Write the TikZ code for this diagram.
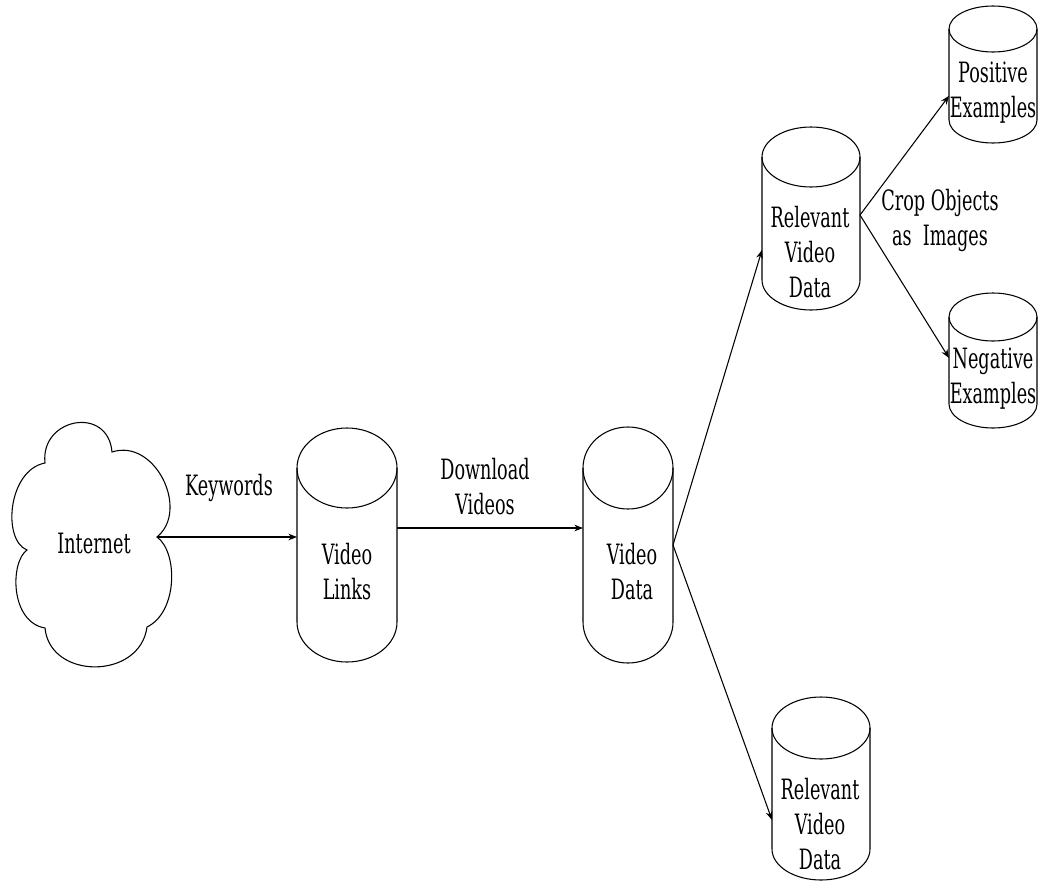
\documentclass[tikz,border=0pt]{standalone}
\usepackage{fontspec}
\setmainfont[FakeStretch=0.63]{DejaVu Serif}
\usetikzlibrary{arrows.meta}

% cylinder store: named box node plus outline drawn in px units
% #1 name, #2 centre x, #3 top, #4 bottom, #5 x radius, #6 y radius
\newcommand\dbcyl[6]{%
  \node[cylbox, minimum width={2*#5*0.75pt}, minimum height={(#4-#3)*0.75pt}] (#1) at (#2,{(#3+#4)/2}) {};
  \draw[outline] (#2-#5,#3+#6) -- (#2-#5,#4-#6)
     arc[start angle=180, end angle=360, x radius=#5*0.75pt, y radius=#6*0.75pt]
     -- (#2+#5,#3+#6);
  \draw[outline] (#2,#3+#6) ellipse[x radius=#5*0.75pt, y radius=#6*0.75pt];
}

\begin{document}
\begin{tikzpicture}[x=0.75pt, y=-0.75pt,
  every node/.style={font=\fontsize{21}{26.25}\selectfont, align=center, inner sep=0pt},
  cylbox/.style={rectangle, inner sep=0pt, outer sep=0pt},
  outline/.style={draw=black, line width=0.8pt},
  flow/.style={draw=black, line width=0.8pt, -{Stealth[length=6.5pt, width=5pt]}},
  lbl/.style={text=black}]
\useasboundingbox (0,0) rectangle (1041,882);

% the cloud
\draw[outline] (45,463) .. controls (40,418) and (108,405) .. (112,452)
  .. controls (155,438) and (190,510) .. (157,537)
  .. controls (178,552) and (178,612) .. (147,627)
  .. controls (140,680) and (50,680) .. (45,628)
  .. controls (10,622) and (10,562) .. (27,550)
  .. controls (2,540) and (8,470) .. (45,463) -- cycle;
\node[lbl] (inet) at (94,543) {Internet};
\coordinate (inetport) at (157,537);

% stores
\dbcyl{vl}{347}{428}{662}{50}{40}
\dbcyl{vd}{628}{427}{663}{45}{41}
\dbcyl{rv1}{811}{127}{310}{49}{30}
\dbcyl{rv2}{821}{697}{880}{49}{31}
\dbcyl{pos}{993}{6}{143}{44}{23}
\dbcyl{neg}{993}{293}{428}{44}{24}

\node[lbl] (vlt) at (347,572) {Video\\Links};
\node[lbl] (vdt) at (632,572) {Video\\Data};
\node[lbl] (rv1t) at (810,252) {Relevant\\Video\\Data};
\node[lbl] (rv2t) at (820,824) {Relevant\\Video\\Data};
\node[lbl] (post) at (993,93) {Positive\\Examples};
\node[lbl] (negt) at (993,379) {Negative\\Examples};

% connectors
\draw[flow] (inetport) -- (inetport -| vl.west);
\draw[flow] ([yshift=12.75pt]vl.east) -- ([yshift=12.75pt]vd.west);
\draw[flow] (vd.east) -- ([yshift=-23.6pt]rv1.west);
\draw[flow] (vd.east) -- ([yshift=-23.6pt]rv2.west);
\draw[flow] ([yshift=2.6pt]rv1.east) -- ([yshift=-16pt]pos.west);
\draw[flow] ([yshift=2.6pt]rv1.east) -- ([yshift=1.9pt]neg.west);

% edge labels
\node[lbl] (kw) at (229,488) {Keywords};
\node[lbl] (dl) at (485,487) {Download\\Videos};
\node[lbl] (crop) at (940,220) {Crop Objects\\as\ \ Images};
\end{tikzpicture}
\end{document}
